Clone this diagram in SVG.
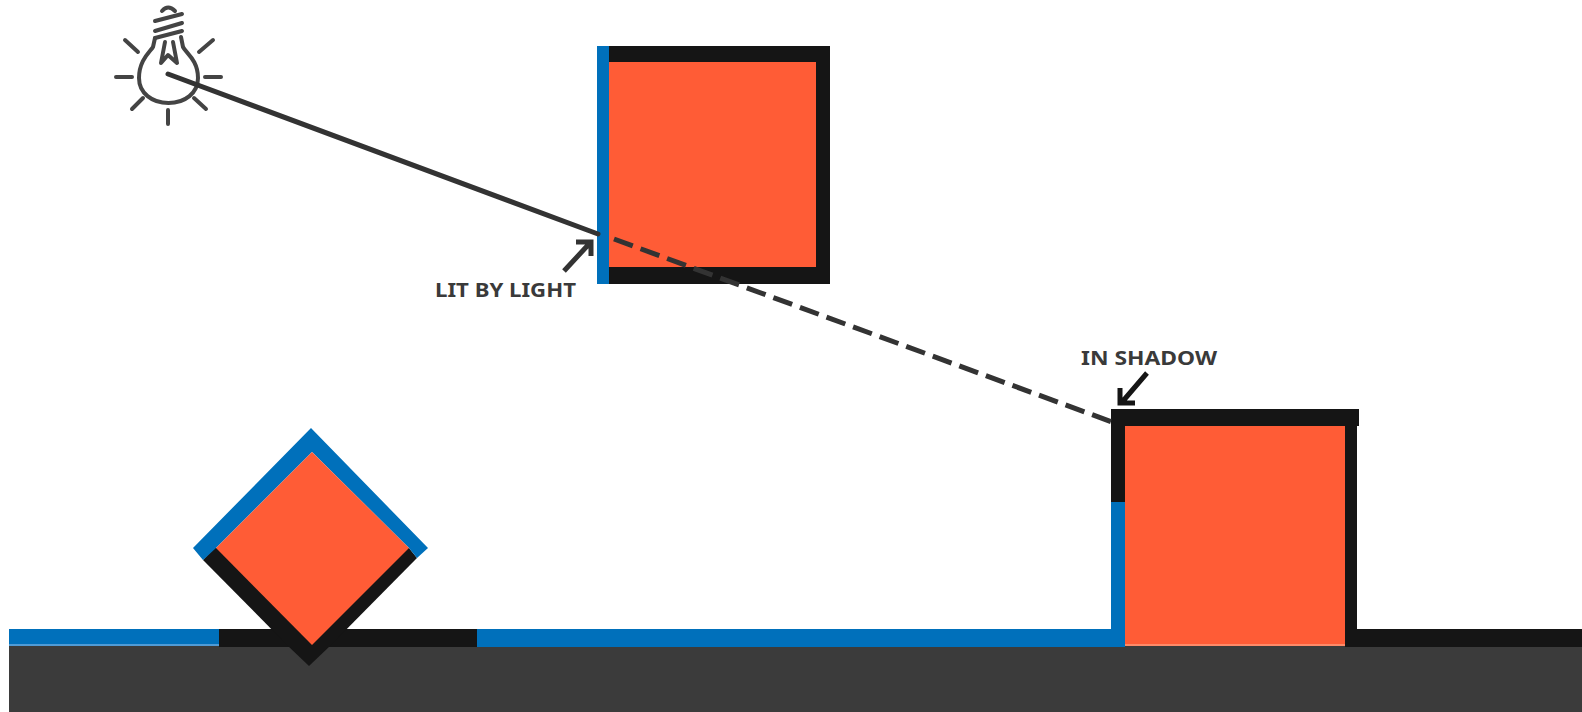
<svg xmlns="http://www.w3.org/2000/svg" width="1582" height="712" viewBox="0 0 1582 712">
<style>
.o{fill:#ff5c36}.b{fill:#0070bb}.k{fill:#151515}.g{fill:#3b3b3b}
.r{fill:none;stroke:#444;stroke-width:4;stroke-linecap:round;stroke-linejoin:round}
.t{font-family:"Noto Sans","Open Sans",sans-serif;font-weight:700;font-size:20px;fill:#3a3a3a}
</style>
<rect width="1582" height="712" fill="#fff"/>
<g id="ground">
<rect class="g" x="9" y="646" width="1573" height="66"/>
<rect class="b" x="9" y="629" width="210" height="15"/>
<rect x="9" y="644" width="210" height="2" fill="#4f9bd6"/>
<rect class="k" x="219" y="629" width="258" height="18"/>
<rect class="b" x="477" y="629" width="648" height="18"/>
<rect class="k" x="1345" y="629" width="237" height="18"/>
</g>
<g id="tilted-box">
<polygon class="k" points="203,560 214,548 409,548 417,558 330,646 309,666 288,646"/>
<polygon class="b" points="311,428 428,548 417,558 409,548 312,452 216,548 203,560 193,548"/>
<polygon class="o" points="312,452 409,548 312,645 216,548"/>
</g>
<g id="top-box">
<rect class="o" x="609" y="62" width="207" height="205"/>
<rect class="k" x="609" y="46" width="221" height="16"/>
<rect class="k" x="816" y="46" width="14" height="238"/>
<rect class="k" x="609" y="267" width="221" height="17"/>
<rect class="b" x="597" y="46" width="12" height="238"/>
</g>
<g id="right-box">
<rect class="o" x="1125" y="426" width="220" height="219"/>
<rect x="1125" y="644" width="220" height="2" fill="#ff8a68"/>
<rect class="k" x="1345" y="426" width="12" height="221"/>
<rect class="k" x="1111" y="409" width="14" height="93"/>
<rect class="k" x="1111" y="409" width="248" height="17"/>
<rect class="b" x="1111" y="502" width="14" height="145"/>
</g>
<g id="bulb">
<path class="r" d="M155 38L153 47C150 52 139 60 139 78C139 93 152 103 168.500 103C185 103 198 93 198 78C198 60 186 53 183 47L181 37"/>
<path class="r" d="M165 42L161 63L168 55L177 63L173 42"/>
<path class="r" d="M155 21L182 14M155 31L182 23M155 38L182 31M162 11Q168 4 175 11"/>
<path class="r" d="M116 77H132M205 77H221M125 40L138 52M213 40L199 52M132 109L143 98M206 109L194 98M168 110V124"/>
</g>
<g id="connectors">
<line x1="168" y1="74" x2="598" y2="234" stroke="#333" stroke-width="5" stroke-linecap="round"/>
<line x1="614" y1="239" x2="1112" y2="422" stroke="#333" stroke-width="5" stroke-dasharray="20 8.3"/>
<path d="M564 271L589 244M576 242H591V256" fill="none" stroke="#333" stroke-width="5"/>
<path d="M1147 373L1123 401M1120 388V403H1135" fill="none" stroke="#151515" stroke-width="5"/>
</g>
<g id="labels">
<text class="t" x="435" y="297" textLength="141" lengthAdjust="spacingAndGlyphs">LIT BY LIGHT</text>
<text class="t" x="1081" y="365" textLength="136" lengthAdjust="spacingAndGlyphs">IN SHADOW</text>
</g>
</svg>
